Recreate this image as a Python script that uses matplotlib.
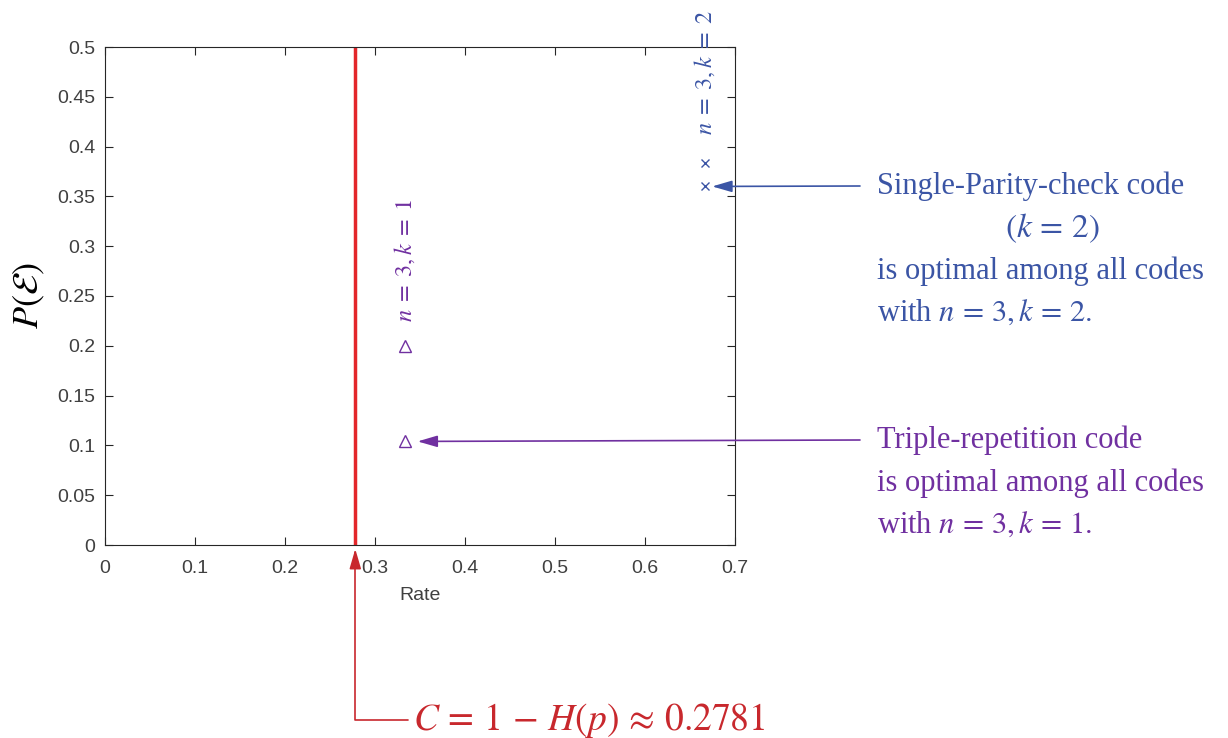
import matplotlib
matplotlib.use("Agg")
import matplotlib.pyplot as plt

plt.rcParams['mathtext.fontset'] = 'stix'

# data
capacity = 0.2781
rep_rate = [1/3, 1/3]
rep_err = [0.2, 0.104]
spc_rate = [2/3, 2/3]
spc_err = [0.36, 0.384]
xticks = [0, 0.1, 0.2, 0.3, 0.4, 0.5, 0.6, 0.7]
xticklabels = ['0', '0.1', '0.2', '0.3', '0.4', '0.5', '0.6', '0.7']
yticks = [0, 0.05, 0.1, 0.15, 0.2, 0.25, 0.3, 0.35, 0.4, 0.45, 0.5]
yticklabels = ['0', '0.05', '0.1', '0.15', '0.2', '0.25', '0.3', '0.35', '0.4', '0.45', '0.5']

BLUE = '#3B55A5'
PURPLE = '#7030A0'
RED_LINE = '#E3262A'
RED_TXT = '#C8282D'
GRAY = '#404040'

fig = plt.figure(figsize=(12.28, 7.38), dpi=100)
ax = fig.add_axes([105/1228, 1-545/738, 630/1228, 498/738])
ax.set_xlim(0, 0.7)
ax.set_ylim(0, 0.5)
ax.set_xticks(xticks)
ax.set_xticklabels(xticklabels)
ax.set_yticks(yticks)
ax.set_yticklabels(yticklabels)
ax.tick_params(direction='in', length=6, colors='#262626', labelcolor=GRAY, labelsize=14,
               top=True, right=True)
ax.tick_params(axis='y', pad=7)
ax.tick_params(axis='x', pad=11)
for lab in ax.get_xticklabels() + ax.get_yticklabels():
    lab.set_family('Liberation Sans')
for s in ax.spines.values():
    s.set_color('#262626')
    s.set_linewidth(0.8)

ax.axvline(capacity, color=RED_LINE, lw=2.5)
ax.plot(rep_rate, rep_err, linestyle='none', marker='^', mfc='none', mec=PURPLE, ms=9, mew=1.0)
ax.plot(spc_rate, spc_err, linestyle='none', marker='x', color=BLUE, ms=6, mew=1.0)

ax.set_xlabel('Rate', fontsize=14, color=GRAY, family='Liberation Sans')
ax.xaxis.set_label_coords(0.5, -0.085)
ax.set_ylabel(r'$P(\mathcal{E})$', fontsize=26, color='black')
ax.yaxis.set_label_coords(-0.092, 0.5)

ax.text(rep_rate[0], 0.286, r'$n\;=\;3, k\;=\;1$', rotation=90, color=PURPLE, fontsize=17.5,
        ha='center', va='center')
ax.text(spc_rate[0], 0.474, r'$n\;=\;3, k\;=\;2$', rotation=90, color=BLUE, fontsize=17.5,
        ha='center', va='center', clip_on=False)

# annotations
arrow_style = '-|>,head_length=1.2,head_width=0.35'
ax.annotate('', xy=(spc_rate[0] + 0.008, spc_err[0]), xycoords='data',
            xytext=(860/1228, 1-186/738), textcoords='figure fraction', annotation_clip=False,
            arrowprops=dict(arrowstyle=arrow_style, color=BLUE, lw=1.2, shrinkA=0, shrinkB=0))
ax.annotate('', xy=(rep_rate[1] + 0.014, rep_err[1]), xycoords='data',
            xytext=(860/1228, 1-440/738), textcoords='figure fraction', annotation_clip=False,
            arrowprops=dict(arrowstyle=arrow_style, color=PURPLE, lw=1.2, shrinkA=0, shrinkB=0))
ax.annotate('', xy=(capacity, -0.004), xycoords='data',
            xytext=(408/1228, 1-720/738), textcoords='figure fraction', annotation_clip=False,
            arrowprops=dict(arrowstyle=arrow_style, color=RED_TXT, lw=1.2, shrinkA=0, shrinkB=0,
                            connectionstyle='angle,angleA=0,angleB=90,rad=0'))

serif = 'Liberation Serif'
fs = 22
fig.text(877/1228, 1-186/738, 'Single-Parity-check code', color=BLUE, fontsize=fs, family=serif,
         va='center', ha='left')
fig.text(1052/1228, 1-228/738, r'$(k\,=\,2)$', color=BLUE, fontsize=fs + 2, va='center', ha='center')
fig.text(877/1228, 1-271/738, 'is optimal among all codes', color=BLUE, fontsize=fs, family=serif,
         va='center', ha='left')
fig.text(877/1228, 1-313/738, r'with $n\,=\,3, k\,=\,2.$', color=BLUE, fontsize=fs, family=serif,
         va='center', ha='left')

fig.text(877/1228, 1-440/738, 'Triple-repetition code', color=PURPLE, fontsize=fs, family=serif,
         va='center', ha='left')
fig.text(877/1228, 1-483/738, 'is optimal among all codes', color=PURPLE, fontsize=fs, family=serif,
         va='center', ha='left')
fig.text(877/1228, 1-525/738, r'with $n\,=\,3, k\,=\,1.$', color=PURPLE, fontsize=fs, family=serif,
         va='center', ha='left')

fig.text(413/1228, 1-720/738, r'$C\,=\,1\,-\,H(p)\,\approx\,0.2781$', color=RED_TXT, fontsize=27,
         va='center', ha='left')

fig.savefig('out.png', dpi=100)
